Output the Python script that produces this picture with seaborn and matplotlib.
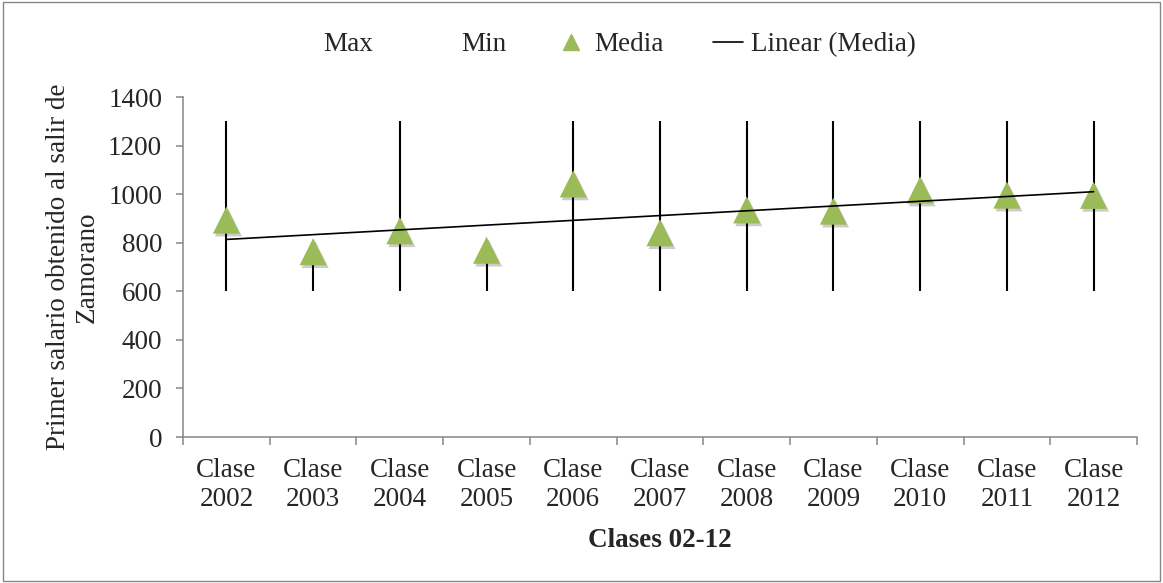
import matplotlib
matplotlib.use("Agg")
import matplotlib.pyplot as plt
import matplotlib.patheffects as pe
from matplotlib.lines import Line2D
import numpy as np
import pandas as pd
import seaborn as sns

categories = ["Clase\n2002", "Clase\n2003", "Clase\n2004", "Clase\n2005", "Clase\n2006",
              "Clase\n2007", "Clase\n2008", "Clase\n2009", "Clase\n2010", "Clase\n2011",
              "Clase\n2012"]
max_vals = [1300, 780, 1300, 780, 1300, 1300, 1300, 1300, 1300, 1300, 1300]
min_vals = [600, 600, 600, 600, 600, 600, 600, 600, 600, 600, 600]
media_vals = [893, 763, 849, 769, 1042, 841, 935, 930, 1017, 996, 995]
y_ticks = [0, 200, 400, 600, 800, 1000, 1200, 1400]

sns.set_theme(style="white")
plt.rcParams["font.family"] = ["Liberation Serif", "DejaVu Serif"]
FS = 19.5

df = pd.DataFrame({"pos": np.arange(len(categories)), "cat": categories,
                   "max": max_vals, "min": min_vals, "media": media_vals})

fig = plt.figure(figsize=(11.63, 5.83), dpi=100)
ax = fig.add_axes([0.1574, 0.2504, 0.9776 - 0.1574, 0.8336 - 0.2504])

green = "#9BBB59"
gray = "#868686"

ax.vlines(df["pos"], df["min"], df["max"], colors="black", linewidth=1.5, zorder=2)
sns.scatterplot(data=df, x="pos", y="media", marker="^", s=380, color=green,
                edgecolor="none", linewidth=0, ax=ax, zorder=3, legend=False)
for coll in ax.collections[1:]:
    coll.set_path_effects([pe.SimplePatchShadow(offset=(1.5, -2), shadow_rgbFace="black",
                                                alpha=0.2), pe.Normal()])
sns.regplot(data=df, x="pos", y="media", scatter=False, ci=None, truncate=True,
            color="black", line_kws={"linewidth": 1.2, "zorder": 4}, ax=ax)

ax.set_xlim(-0.5, len(categories) - 0.5)
ax.set_ylim(0, 1400)
ax.set_yticks(y_ticks)
ax.set_yticklabels([str(v) for v in y_ticks], fontsize=FS)
ax.set_xticks(df["pos"])
ax.set_xticklabels(categories, fontsize=FS, linespacing=1.2)
ax.set_xticks(np.arange(-0.5, len(categories), 1.0), minor=True)
ax.tick_params(axis="x", which="major", length=0, pad=15)
ax.tick_params(axis="x", which="minor", length=6, width=1.1, color=gray, direction="out", bottom=True)
ax.tick_params(axis="y", which="major", length=5, width=1.1, color=gray, direction="out", left=True, pad=10)

for side in ["top", "right"]:
    ax.spines[side].set_visible(False)
for side in ["left", "bottom"]:
    ax.spines[side].set_color(gray)
    ax.spines[side].set_linewidth(1.1)

ax.set_xlabel("Clases 02-12", fontsize=FS, fontweight="bold", labelpad=12)
ax.set_ylabel("Primer salario obtenido al salir de\nZamorano", fontsize=FS, labelpad=6,
              linespacing=1.2)

handles = [
    Line2D([], [], linestyle="none", marker=None),
    Line2D([], [], linestyle="none", marker=None),
    Line2D([], [], linestyle="none", marker="^", markersize=12, color=green),
    Line2D([], [], color="black", linewidth=1.2),
]
labels = ["Max", "Min", "Media", "Linear (Media)"]
fig.legend(handles, labels, loc="center", bbox_to_anchor=(0.5166, 0.923), ncol=4,
           frameon=False, fontsize=FS, handlelength=1.1, handletextpad=0.3,
           columnspacing=1.84)

border = plt.Rectangle((0.003, 0.004), 0.994, 0.992, transform=fig.transFigure,
                       fill=False, edgecolor=gray, linewidth=1.0)
fig.patches.append(border)

fig.savefig("out.png", dpi=100)
